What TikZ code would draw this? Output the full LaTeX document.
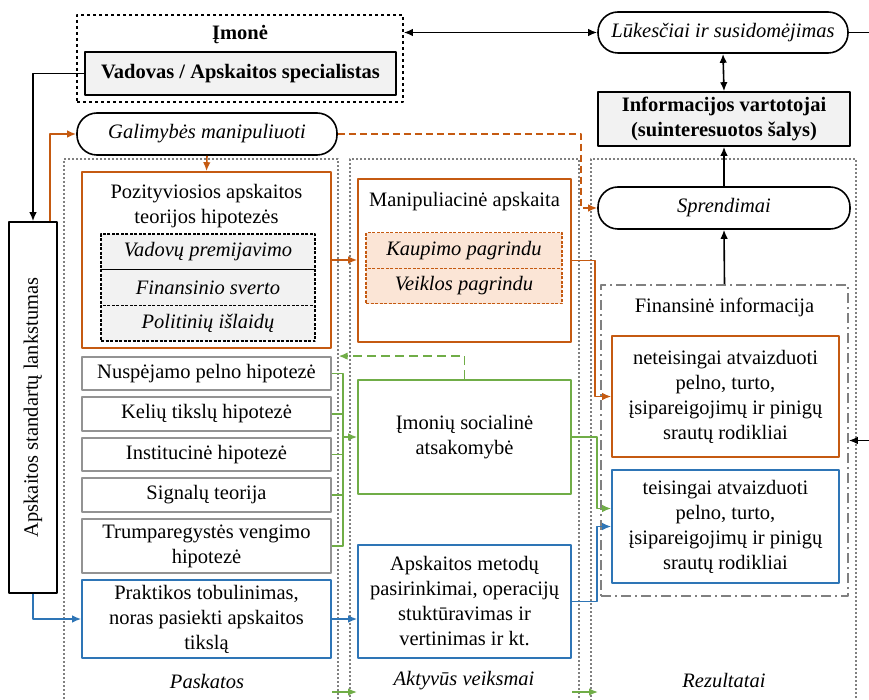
\documentclass[tikz,border=0pt]{standalone}
\usepackage{fontspec}
\setmainfont{Liberation Serif}
\usetikzlibrary{arrows.meta}
\definecolor{orng}{HTML}{C55A11}
\definecolor{grn}{HTML}{70AD47}
\definecolor{blu}{HTML}{2E75B6}
\definecolor{lgray}{HTML}{F2F2F2}
\definecolor{lorng}{HTML}{FBE5D6}
\newcommand\fsz{\fontsize{20.5}{25}\selectfont}
\begin{document}
\begin{tikzpicture}[x=1pt, y=-1pt, font=\fsz, line join=round, >={Latex[length=9pt,width=7.5pt]},
 frame/.style={draw=gray, dash pattern=on 2pt off 2pt, line width=1.2pt},
 pill/.style={draw, line width=1.6pt, rounded corners=20pt, font=\fsz\itshape},
 hyp/.style={draw=gray!85, line width=1.8pt, minimum width=249pt, inner sep=1pt, align=center},
 sub/.style={draw, dash pattern=on 3pt off 1.5pt, line width=1.4pt, fill=lgray, font=\fsz\itshape},
 colbox/.style={draw=#1, line width=1.6pt, align=center, inner sep=1pt},
 conn/.style={line width=1.6pt}]
 \useasboundingbox (0,0) rectangle (869,700);
 \foreach \c/\x/\w/\lx/\t in {col1/201/274/207/Paskatos, col2/464.5/229/464/Aktyvūs veiksmai, col3/723.5/265/724/Rezultatai}{
  \node[frame, minimum width=\w pt, minimum height=546pt] (\c) at (\x,432) {};
  \node[font=\fsz\itshape] (\c-lbl) at (\lx,681) {\t};
 }
 \node[draw, dash pattern=on 3pt off 3pt, line width=1.6pt, minimum width=326pt, minimum height=87pt] (imone) at (240,58.5) {};
 \node[font=\fsz\bfseries] (imone-lbl) at (240,35) {Įmonė};
 \node[draw, line width=1.6pt, fill=lgray, minimum width=311pt, minimum height=43pt, font=\fsz\bfseries] (vadovas) at (240.5,73.5) {Vadovas / Apskaitos specialistas};
 \node[pill, minimum width=250pt, minimum height=41pt] (lukesciai) at (723,32.5) {Lūkesčiai ir susidomėjimas};
 \node[draw, line width=1.6pt, fill=lgray, minimum width=252pt, minimum height=54pt, inner sep=2pt, align=center, font=\fsz\bfseries] (info) at (724,119) {Informacijos vartotojai\\(suinteresuotos šalys)};
 \node[pill, minimum width=260pt, minimum height=42pt] (galimybes) at (207,134) {Galimybės manipuliuoti};
 \node[pill, minimum width=252pt, minimum height=42pt] (sprendimai) at (724,208) {Sprendimai};
 \node[draw, line width=1.6pt, minimum width=48pt, minimum height=371pt] (standartai) at (33,407.5) {};
 \node[rotate=90] (standartai-lbl) at (standartai) {Apskaitos standartų lankstumas};
 \node[colbox=orng, minimum width=249pt, minimum height=176pt] (pozityv) at (206.5,260) {};
 \node[align=center] (pozityv-lbl) at (206.5,206) {Pozityviosios apskaitos\\teorijos hipotezės};
 \foreach \n/\y/\t in {premij/251.8/Vadovų premijavimo, svert/287.5/Finansinio sverto, islaid/323.2/Politinių išlaidų}
  \node[sub, minimum width=214pt, minimum height=35.7pt] (\n) at (208,\y) {\t};
 \node[colbox=orng, minimum width=213pt, minimum height=163pt] (manip) at (464.5,260.5) {};
 \node (manip-lbl) at (464.5,202) {Manipuliacinė apskaita};
 \foreach \n/\y/\t in {kaup/250.5/Kaupimo pagrindu, veikl/286/Veiklos pagrindu}
  \node[sub, draw=orng, fill=lorng, minimum width=196pt, minimum height=35.5pt] (\n) at (464,\y) {\t};
 \foreach \n/\y/\h/\t in {nusp/373.5/33pt/Nuspėjamo pelno hipotezė, keliu/414/34pt/Kelių tikslų hipotezė, inst/454.5/33pt/Institucinė hipotezė, sign/495/34pt/Signalų teorija, trump/546/54pt/{Trumparegystės vengimo\\hipotezė}}
  \node[hyp, minimum height=\h] (\n) at (206.5,\y) {\t};
 \node[colbox=blu, minimum width=249pt, minimum height=78pt] (praktikos) at (206.5,619) {Praktikos tobulinimas,\\noras pasiekti apskaitos\\tikslą};
 \node[colbox=grn, minimum width=213pt, minimum height=114pt] (imoniu) at (464.5,437) {Įmonių socialinė\\atsakomybė};
 \node[colbox=blu, minimum width=213pt, minimum height=113pt] (metodu) at (464.5,601.5) {Apskaitos metodų\\pasirinkimai, operacijų\\stuktūravimas ir\\vertinimas ir kt.};
 \node[draw=gray, line width=1.6pt, dash pattern=on 10pt off 4pt on 2pt off 4pt, minimum width=247pt, minimum height=311pt] (finans) at (724.5,440.5) {};
 \node (finans-lbl) at (724.5,307) {Finansinė informacija};
 \node[colbox=orng, minimum width=227pt, minimum height=121pt] (neteis) at (725.5,396.5) {neteisingai atvaizduoti\\pelno, turto,\\įsipareigojimų ir pinigų\\srautų rodikliai};
 \node[colbox=blu, minimum width=227pt, minimum height=113pt] (teis) at (725.5,526.5) {teisingai atvaizduoti\\pelno, turto,\\įsipareigojimų ir pinigų\\srautų rodikliai};
 \coordinate (kr1) at (869,32.5);
 \coordinate (kr2) at (869,440.5);
 \coordinate (bus) at (343,437);
 \coordinate (g1a) at (332,692);
 \coordinate (g1b) at (357,692);
 \coordinate (g2a) at (572,692);
 \coordinate (g2b) at (598,692);
 \draw[conn,->] (vadovas.west) -| (standartai.north);
 \draw[conn,orng,->] ([xshift=17pt]standartai.north) |- (galimybes.west);
 \draw[conn,<->] (imone.east |- lukesciai.west) -- (lukesciai.west);
 \draw[conn] (lukesciai.east) -- (kr1);
 \draw[conn,<->] (lukesciai.south) -- (info.north);
 \draw[conn,->] (sprendimai.north) -- (info.south);
 \draw[conn,->] (finans.north) -- (sprendimai.south);
 \draw[conn,->] (kr2) -- (finans.east);
 \draw[conn,orng,->] (galimybes.south) -- (pozityv.north);
 \draw[conn,orng,dash pattern=on 7pt off 4pt,->] (galimybes.east) -| ([xshift=-16pt]sprendimai.west) -- (sprendimai.west);
 \draw[conn,orng,->] (pozityv.east) -- (manip.west |- pozityv.east);
 \draw[conn,orng,->] (manip.east) -| ([xshift=-16pt]neteis.west) -- (neteis.west);
 \foreach \n in {nusp,keliu,inst,sign,trump}
  \draw[conn,grn] (\n.east) -| (bus);
 \draw[conn,grn,->] (bus) -- (imoniu.west);
 \draw[conn,grn,dash pattern=on 9pt off 5pt,->] (imoniu.north) |- (col1.east |- nusp.north);
 \draw[conn,grn,->] (imoniu.east) -- ++(25,0) |- ([yshift=18pt]teis.west);
 \draw[conn,blu,->] (metodu.east) -- ++(25,0) |- (teis.west);
 \draw[conn,blu,->] (standartai.south) |- (praktikos.west);
 \draw[conn,blu,->] (praktikos.east) -- (metodu.west |- praktikos.east);
 \draw[conn,grn,->] (g1a) -- (g1b);
 \draw[conn,grn,->] (g2a) -- (g2b);
\end{tikzpicture}
\end{document}
